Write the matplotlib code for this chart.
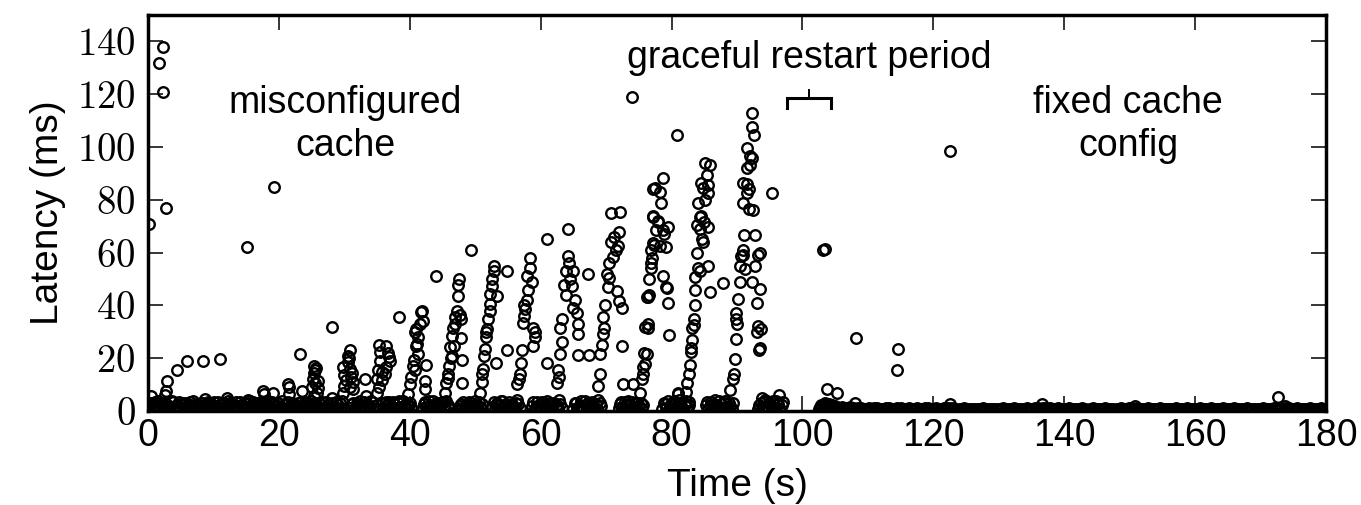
import matplotlib
matplotlib.use('Agg')
import matplotlib.pyplot as plt
from matplotlib.ticker import FuncFormatter

plt.rcParams['font.family'] = ['Liberation Sans', 'DejaVu Sans']
plt.rcParams['mathtext.fontset'] = 'cm'

# isolated outliers (time s, latency ms)
outlier_pts = [(0.1, 71), (2.3, 138), (1.7, 132), (2.3, 121), (2.7, 77), (19.2, 85), (15.2, 62),
               (0.4, 5.8), (2.9, 11.4), (2.8, 7.6), (2.6, 6.0), (4.4, 15.6), (5.9, 19), (8.4, 19),
               (11.0, 19.8), (8.7, 4.6), (12.0, 5.0), (15.3, 4.2), (17.6, 7.6), (17.7, 6.5),
               (19.1, 6.8), (21.4, 10.3), (21.5, 9.0), (21.6, 6.6), (23.2, 21.7), (23.5, 7.6),
               (28.1, 32), (28.1, 5.0), (33.2, 12.2), (33.3, 5.7), (35.0, 6.9), (38.4, 35.7),
               (44.0, 51), (49.4, 61), (54.8, 53), (54.8, 23), (61.0, 65), (61.0, 18.2),
               (67.2, 52), (65.7, 21.3), (67.4, 21.3), (74.0, 119), (80.8, 104.6), (87.9, 48.3),
               (95.3, 82.5), (96.4, 6.0), (93.8, 5.0)]

# the periodic latency bursts while the cache is misconfigured
burst1 = [(25.4, 17), (25.5, 15.5), (25.3, 14.5), (25.2, 12.3), (25.5, 10.5), (25.1, 9), (26.0, 8.7),
          (25.8, 6.7), (25.3, 5.5), (25.6, 16.2), (25.9, 11.5)]
burst2 = [(30.9, 23), (30.6, 21), (30.7, 20), (29.8, 16.5), (30.8, 16), (30.0, 13.6), (31.0, 12.8),
          (30.3, 11.6), (31.3, 11), (29.9, 9.3), (30.8, 9), (31.3, 8.3), (29.8, 6.7), (30.5, 18.5),
          (31.2, 14.5)]
burst3 = [(35.3, 25), (36.4, 24.8), (36.7, 22), (37.0, 19), (35.5, 19), (35.2, 15.6), (35.7, 14.8),
          (36.2, 14), (35.0, 12.3), (35.8, 11.8), (35.3, 9), (36.8, 20.5), (36.3, 16.7), (35.5, 22.5)]
burst4 = [(41.9, 38), (41.7, 37.5), (42.0, 34), (41.6, 33), (41.0, 31), (40.8, 30), (41.1, 25.5),
          (40.9, 24.5), (40.5, 17), (40.8, 15.5), (42.5, 17.5), (40.0, 10.3), (42.3, 11.4),
          (42.4, 8.5), (39.7, 6.5), (41.3, 28), (41.2, 21.5), (40.6, 19.5), (40.2, 13)]
burst5 = [(47.5, 50), (47.4, 47.7), (47.4, 43.7), (47.2, 38), (46.9, 35.5), (47.6, 36.3), (47.8, 35),
          (46.9, 33), (46.6, 31.6), (46.7, 24.7), (46.2, 24.2), (46.5, 20.8), (46.3, 20), (46.0, 17),
          (45.8, 14), (45.6, 10.6), (48.0, 19.4), (48.0, 10.6), (47.8, 27.7), (45.4, 6.8),
          (46.5, 28.5), (45.9, 12.5)]
burst6 = [(52.9, 55), (52.8, 53), (52.6, 50), (52.5, 47.5), (52.3, 40.5), (52.2, 38), (52.0, 35),
          (51.8, 31), (51.6, 28), (51.5, 23.5), (51.2, 16), (51.0, 14), (50.7, 7), (53.3, 43.6),
          (53.2, 18.3), (51.7, 30), (52.3, 44.5), (51.3, 21), (51.0, 11)]
burst7 = [(58.3, 58), (58.4, 54), (57.9, 51), (58.1, 46), (57.9, 42), (57.6, 38.5), (57.4, 36),
          (58.9, 31.6), (59.1, 28), (58.9, 24.5), (57.2, 23), (57.0, 18), (56.8, 14), (56.4, 10.3),
          (57.5, 40), (58.6, 49), (57.3, 33.5), (56.7, 12), (59.2, 30)]
burst8 = [(64.2, 68.8), (64.2, 58.7), (63.9, 53), (64.9, 53), (63.6, 47.7), (64.8, 47.5), (65.3, 42),
          (65.5, 37), (65.7, 33), (65.7, 29.3), (63.3, 35), (63.0, 31.5), (63.0, 21.6), (62.6, 15.6),
          (62.8, 13), (64.5, 50), (63.8, 44), (64.3, 56), (63.2, 26), (65.0, 39), (62.5, 10.5)]
burst9 = [(70.7, 75), (72.1, 75.3), (71.9, 67.7), (71.2, 66), (70.7, 64), (71.5, 61), (70.5, 56),
          (70.2, 52), (70.5, 50.5), (71.7, 45.6), (72.0, 41.6), (72.4, 39), (69.8, 40), (69.5, 35.5),
          (69.5, 29), (69.3, 25), (69.1, 21.6), (69.0, 14), (68.8, 9.6), (72.4, 24.7), (72.6, 10.2),
          (74.1, 10.2), (71.1, 58.5), (70.3, 47), (69.7, 31.5), (71.8, 62.5)]
burst10 = [(78.4, 78.7), (77.2, 73.7), (77.9, 71.7), (78.7, 68.7), (77.6, 68.5), (77.2, 63.5),
           (78.2, 62.5), (79.2, 62), (76.9, 54), (78.7, 51.3), (79.2, 47), (76.4, 43), (79.5, 41),
           (76.4, 33), (76.4, 31.5), (79.6, 28.9), (76.2, 21.6), (75.9, 17.7), (75.6, 14),
           (75.2, 6.8), (81.0, 7), (78.7, 88.2), (77.5, 84.4), (77.1, 84), (78.3, 83),
           (77.1, 73.4), (77.9, 72), (79.5, 69.6), (78.8, 67), (77.3, 63), (76.8, 61), (76.8, 56),
           (79.3, 46.7), (76.3, 43.3), (76.5, 44), (76.0, 32), (75.8, 22), (75.6, 16.5),
           (75.5, 12), (76.6, 50), (77.0, 58)]
burst11 = [(85.1, 94), (85.9, 93), (85.4, 89.4), (84.5, 86.5), (84.8, 84.5), (85.5, 85.5),
           (85.6, 82.5), (85.1, 80), (84.0, 78.7), (84.5, 74), (84.3, 73.5), (85.0, 71.5),
           (83.9, 70.5), (85.6, 69.6), (84.3, 69), (84.6, 65), (84.8, 64), (83.9, 59.7), (84.1, 54),
           (84.3, 53), (83.6, 50.6), (85.6, 55), (85.9, 45), (83.6, 46), (83.6, 40), (83.4, 35),
           (83.4, 32.5), (83.2, 31.5), (83.2, 27), (83.0, 24), (83.0, 22.5), (82.8, 17.5),
           (82.6, 14), (82.4, 10.6), (82.2, 7.3), (81.0, 6.5)]
burst12 = [(92.3, 113), (92.3, 107.7), (92.6, 104.6), (91.5, 99.6), (92.0, 96.6), (92.3, 96),
           (92.0, 93), (91.5, 92), (90.9, 86.3), (91.5, 85.8), (91.8, 84), (91.5, 82.5),
           (90.9, 78.7), (91.8, 76.5), (92.5, 76), (91.1, 66.5), (92.8, 66.5), (90.9, 61),
           (90.6, 58.6), (90.4, 55), (90.4, 48.7), (90.2, 42.6), (89.9, 37), (89.9, 35),
           (89.8, 27.4), (89.7, 19.8), (89.5, 14), (89.4, 12), (89.0, 8), (92.8, 55), (93.5, 60),
           (93.2, 59), (92.3, 48.7), (93.5, 46.4), (93.0, 41), (93.2, 32.3), (93.6, 31), (93.0, 30),
           (93.5, 24), (93.4, 23), (90.9, 59), (91.2, 53.6), (90.0, 33)]

# after the graceful restart
after_pts = [(103.5, 61.2), (103.2, 60.8), (103.7, 8.4), (105.3, 6.9), (108.2, 27.8), (114.6, 23.6),
             (114.5, 15.6), (122.6, 98.5), (172.7, 5.3), (108.0, 3.0), (122.6, 2.5), (136.6, 2.5),
             (150.8, 2.0), (173.7, 2.0)]

# dense low-latency band before the restart
base_t = [0.1, 0.4, 0.8, 1.2, 1.5, 1.9, 2.3, 2.7, 3.0, 3.4,
          3.8, 4.2, 4.5, 4.9, 5.3, 5.6, 6.0, 6.4, 6.8, 7.1,
          7.5, 7.9, 8.3, 8.6, 9.0, 9.4, 9.8, 10.1, 10.5, 10.9,
          11.3, 11.6, 12.0, 12.4, 12.8, 13.1, 13.5, 13.9, 14.3, 14.6,
          15.0, 15.4, 15.8, 16.1, 16.5, 16.9, 17.3, 17.6, 18.0, 18.4,
          18.8, 19.1, 19.5, 19.9, 20.3, 20.6, 21.0, 21.4, 21.8, 22.1,
          22.5, 22.9, 23.3, 23.6, 24.0, 24.4, 24.8, 25.1, 25.5, 25.9,
          26.3, 26.6, 27.0, 27.4, 27.8, 28.1, 28.5, 28.9, 29.3, 29.7,
          30.9, 31.3, 31.7, 32.0, 32.4, 32.8, 33.2, 33.5, 33.9, 34.3, 34.7, 35.0,
          35.7, 36.1, 36.5, 36.8, 37.2, 37.6, 38.0, 38.3, 38.7, 39.1, 39.5, 39.8, 40.2,
          42.0, 42.4, 42.8, 43.1, 43.5, 43.9, 44.3, 44.6, 45.0, 45.4, 45.8, 46.1,
          47.4, 47.8, 48.2, 48.5, 48.9, 49.3, 49.7, 50.0, 50.4, 50.8, 51.1,
          52.6, 53.0, 53.4, 53.7, 54.1, 54.5, 54.9, 55.2, 55.6, 56.0, 56.4, 56.8,
          58.7, 59.1, 59.5, 59.8, 60.2, 60.6, 61.0, 61.3, 61.7, 62.1, 62.5, 62.8, 63.2,
          65.0, 65.4, 65.8, 66.1, 66.5, 66.9, 67.3, 67.6, 68.0, 68.4, 68.8, 69.2,
          71.9, 72.3, 72.7, 73.0, 73.4, 73.8, 74.2, 74.5, 74.9, 75.3, 75.7,
          78.6, 79.0, 79.4, 79.7, 80.1, 80.5, 80.9, 81.2, 81.6, 82.0, 82.4, 82.7,
          85.2, 85.6, 86.0, 86.3, 86.7, 87.1, 87.5, 87.8, 88.2, 88.6, 89.0, 89.4,
          93.2, 93.6, 94.0, 94.3, 94.7, 95.1, 95.5, 95.8, 96.2, 96.6, 97.0,
          102.6, 102.9, 103.2, 103.5, 103.8, 104.1, 104.4, 104.7, 105.0, 105.3, 105.6]
base_lat = [1.2, 3.1, 0.5, 2.2, 3.6, 0.8, 1.9, 2.8, 0.4, 1.5,
            3.3, 0.9, 2.4, 1.1, 3.0, 0.6, 2.0, 3.5, 1.3, 0.7,
            2.6, 1.0, 3.2, 0.5, 1.8, 2.9, 0.9, 3.4, 1.4, 0.6,
            2.3, 3.1, 0.8, 1.6, 2.7, 0.4, 3.3, 1.2, 2.1, 0.7,
            2.9, 1.5, 0.5, 3.4, 2.2, 1.0, 3.0, 0.6, 1.8, 3.6,
            1.1, 2.5, 0.4, 3.2, 1.7, 0.8, 2.8, 3.5, 1.3, 0.6,
            2.4, 3.1, 0.9, 1.6, 3.4, 0.5, 2.0, 1.2, 3.0, 0.7,
            2.6, 3.5, 1.0, 0.4, 2.2, 3.2, 1.4, 0.8, 2.9, 3.6,
            1.0, 3.2, 0.6, 2.4, 3.6, 1.3, 0.5, 2.8, 1.7, 3.3, 0.8, 2.1,
            2.9, 0.7, 1.8, 3.4, 0.5, 2.5, 1.2, 3.6, 0.9, 2.0, 3.1, 0.6, 1.5,
            1.1, 3.3, 0.5, 2.2, 3.7, 1.4, 0.8, 2.9, 3.5, 1.0, 2.4, 0.6,
            0.7, 2.6, 3.4, 1.2, 0.5, 3.0, 2.0, 3.8, 0.9, 1.6, 2.8,
            1.4, 0.6, 3.1, 2.3, 3.9, 0.8, 1.7, 3.5, 2.6, 0.5, 4.2, 1.1,
            2.0, 0.6, 3.3, 1.2, 2.7, 0.9, 3.8, 1.5, 0.5, 3.0, 2.2, 4.0, 1.0,
            0.8, 2.9, 1.5, 3.6, 0.5, 2.2, 3.2, 1.1, 0.7, 2.6, 4.1, 1.8,
            1.3, 3.4, 0.6, 2.1, 3.8, 0.9, 2.7, 1.6, 0.5, 3.1, 2.3,
            0.7, 2.5, 3.6, 1.2, 0.5, 3.0, 1.9, 4.2, 0.9, 2.8, 1.4, 3.3,
            2.2, 0.6, 3.4, 1.5, 4.0, 0.8, 2.7, 1.1, 3.7, 0.5, 2.0, 3.1,
            0.9, 3.0, 1.6, 4.3, 0.6, 2.4, 3.6, 1.2, 2.8, 0.7, 3.4,
            0.6, 2.2, 1.0, 3.0, 0.5, 2.6, 1.4, 0.8, 2.0, 1.2, 0.6]

# second pass of the same band (interleaved samples)
base2_t = [0.25, 0.6, 1.0, 1.35, 1.7, 2.1, 2.5, 2.85, 3.2, 3.6,
           4.0, 4.35, 4.7, 5.1, 5.45, 5.8, 6.2, 6.6, 6.95, 7.3,
           7.7, 8.1, 8.45, 8.8, 9.2, 9.6, 9.95, 10.3, 10.7, 11.1,
           11.45, 11.8, 12.2, 12.6, 12.95, 13.3, 13.7, 14.1, 14.45, 14.8,
           15.2, 15.6, 15.95, 16.3, 16.7, 17.1, 17.45, 17.8, 18.2, 18.6,
           18.95, 19.3, 19.7, 20.1, 20.45, 20.8, 21.2, 21.6, 21.95, 22.3,
           22.7, 23.1, 23.45, 23.8, 24.2, 24.6, 24.95, 25.3, 25.7, 26.1,
           26.45, 26.8, 27.2, 27.6, 27.95, 28.3, 28.7, 29.1, 29.5, 29.9,
           31.1, 31.5, 31.9, 32.2, 32.6, 33.0, 33.4, 33.7, 34.1, 34.5, 34.9,
           35.9, 36.3, 36.7, 37.0, 37.4, 37.8, 38.2, 38.5, 38.9, 39.3, 39.7, 40.0,
           42.2, 42.6, 43.0, 43.3, 43.7, 44.1, 44.5, 44.8, 45.2, 45.6, 46.0,
           47.6, 48.0, 48.4, 48.7, 49.1, 49.5, 49.9, 50.2, 50.6, 51.0,
           52.8, 53.2, 53.6, 53.9, 54.3, 54.7, 55.1, 55.4, 55.8, 56.2, 56.6,
           58.9, 59.3, 59.7, 60.0, 60.4, 60.8, 61.2, 61.5, 61.9, 62.3, 62.7, 63.0,
           65.2, 65.6, 66.0, 66.3, 66.7, 67.1, 67.5, 67.8, 68.2, 68.6, 69.0,
           72.1, 72.5, 72.9, 73.2, 73.6, 74.0, 74.4, 74.7, 75.1, 75.5,
           78.8, 79.2, 79.6, 79.9, 80.3, 80.7, 81.1, 81.4, 81.8, 82.2, 82.6,
           85.4, 85.8, 86.2, 86.5, 86.9, 87.3, 87.7, 88.0, 88.4, 88.8, 89.2,
           93.4, 93.8, 94.2, 94.5, 94.9, 95.3, 95.7, 96.0, 96.4, 96.8,
           102.75, 103.05, 103.35, 103.65, 103.95, 104.25, 104.55, 104.85, 105.15, 105.45]
base2_lat = [2.7, 0.9, 3.5, 1.6, 0.5, 2.5, 3.2, 1.1, 2.0, 3.7,
             0.7, 1.9, 3.4, 2.6, 1.2, 3.1, 0.8, 2.3, 3.6, 1.5,
             0.6, 3.0, 1.9, 2.7, 3.5, 0.7, 2.2, 1.3, 3.3, 2.5,
             0.9, 1.8, 3.6, 2.9, 0.6, 2.4, 1.6, 3.5, 0.9, 3.0,
             1.3, 3.6, 2.4, 0.8, 3.1, 2.6, 1.4, 3.3, 2.7, 0.9,
             3.3, 0.7, 2.0, 1.3, 3.6, 2.4, 1.0, 0.6, 3.2, 2.2,
             1.2, 0.7, 3.5, 2.7, 1.1, 2.9, 3.6, 2.6, 1.4, 3.2,
             1.1, 0.9, 3.3, 2.5, 1.0, 0.6, 3.5, 2.3, 1.2, 0.6,
             2.5, 0.9, 3.0, 1.5, 0.6, 3.4, 2.2, 1.0, 3.6, 2.0, 0.5,
             1.2, 3.3, 2.6, 1.0, 3.5, 0.7, 2.9, 1.6, 3.7, 0.6, 2.2, 3.2,
             2.5, 1.4, 3.6, 0.7, 2.3, 3.1, 1.8, 0.5, 2.0, 3.7, 1.5,
             2.0, 1.0, 0.6, 2.8, 3.5, 1.4, 0.7, 2.3, 3.4, 0.9,
             3.3, 2.1, 0.8, 3.7, 1.3, 2.8, 0.6, 2.2, 1.0, 3.2, 2.5,
             3.5, 1.6, 2.3, 0.6, 3.4, 2.1, 0.8, 3.1, 2.5, 1.0, 0.6, 2.7,
             3.0, 0.6, 2.4, 1.2, 3.6, 0.9, 2.0, 3.4, 1.5, 0.7, 2.9,
             2.6, 1.0, 3.3, 0.6, 2.2, 3.5, 1.2, 3.0, 2.0, 0.8,
             3.1, 1.3, 0.7, 2.6, 3.7, 1.0, 3.2, 2.0, 0.6, 3.8, 2.3,
             3.3, 1.8, 0.7, 2.6, 2.1, 3.6, 0.6, 2.9, 1.4, 3.2, 0.9,
             2.3, 0.6, 3.5, 2.0, 3.1, 0.9, 1.7, 3.8, 0.6, 2.2,
             1.6, 0.5, 2.4, 1.2, 1.8, 0.7, 2.2, 1.5, 0.5, 1.0]

# thin low-latency band once the cache config is fixed
tail_t = [106.1, 106.6, 107.3, 107.8, 108.5, 109.0, 109.7, 110.2, 110.9, 111.4,
          112.1, 112.7, 113.2, 113.9, 114.4, 115.1, 115.6, 116.3, 116.8, 117.5,
          118.0, 118.7, 119.2, 119.9, 120.4, 121.1, 121.6, 122.3, 122.8, 123.5,
          124.0, 124.7, 125.2, 125.9, 126.4, 127.1, 127.6, 128.3, 128.8, 129.5,
          130.0, 130.7, 131.2, 131.9, 132.4, 133.1, 133.6, 134.3, 134.8, 135.5,
          136.0, 136.7, 137.2, 137.9, 138.4, 139.1, 139.6, 140.3, 140.8, 141.5,
          142.0, 142.7, 143.2, 143.9, 144.4, 145.1, 145.6, 146.3, 146.8, 147.5,
          148.0, 148.7, 149.2, 149.9, 150.4, 151.1, 151.6, 152.3, 152.8, 153.5,
          154.0, 154.7, 155.2, 155.9, 156.4, 157.1, 157.6, 158.3, 158.8, 159.5,
          160.0, 160.7, 161.2, 161.9, 162.4, 163.1, 163.6, 164.3, 164.8, 165.5,
          166.0, 166.7, 167.2, 167.9, 168.4, 169.1, 169.6, 170.3, 170.8, 171.5,
          172.0, 172.7, 173.2, 173.9, 174.4, 175.1, 175.6, 176.3, 176.8, 177.5,
          178.0, 178.7, 179.2, 179.9]
tail_lat = [1.4, 1.1, 1.5, 1.0, 1.3, 1.1, 0.9, 1.2, 1.0, 1.1,
            0.9, 1.2, 1.0, 0.8, 1.1, 1.0, 0.9, 1.1, 0.8, 1.0,
            0.9, 1.1, 1.0, 0.8, 1.0, 0.9, 1.1, 1.2, 1.0, 0.9,
            0.8, 1.0, 0.9, 0.7, 0.9, 0.8, 1.0, 0.9, 0.7, 0.9,
            0.8, 1.0, 0.9, 0.8, 1.0, 0.9, 0.8, 1.0, 0.9, 1.0,
            1.1, 1.3, 1.1, 1.0, 0.9, 1.0, 0.8, 0.9, 1.0, 0.8,
            0.9, 1.0, 0.8, 0.9, 1.0, 0.9, 0.8, 1.0, 0.9, 0.8,
            0.9, 1.0, 0.8, 1.0, 1.1, 1.0, 0.9, 0.8, 1.0, 0.9,
            0.8, 1.0, 0.9, 0.8, 0.9, 1.0, 0.8, 0.9, 1.0, 0.8,
            0.9, 1.0, 0.8, 0.9, 1.0, 0.9, 0.8, 1.0, 0.9, 0.8,
            1.0, 0.9, 0.8, 1.0, 0.9, 0.8, 0.9, 1.0, 0.9, 0.8,
            1.0, 0.9, 1.1, 1.2, 1.0, 0.9, 1.0, 0.8, 0.9, 1.0,
            0.9, 0.8, 1.0, 0.9]
tail2_t = [106.35, 106.95, 107.55, 108.15, 108.75, 109.35, 109.95, 110.55, 111.15, 111.75,
           112.4, 112.95, 113.55, 114.15, 114.75, 115.35, 115.95, 116.55, 117.15, 117.75,
           118.35, 118.95, 119.55, 120.15, 120.75, 121.35, 121.95, 122.55, 123.15, 123.75,
           124.35, 124.95, 125.55, 126.15, 126.75, 127.35, 127.95, 128.55, 129.15, 129.75,
           130.35, 130.95, 131.55, 132.15, 132.75, 133.35, 133.95, 134.55, 135.15, 135.75,
           136.35, 136.95, 137.55, 138.15, 138.75, 139.35, 139.95, 140.55, 141.15, 141.75,
           142.35, 142.95, 143.55, 144.15, 144.75, 145.35, 145.95, 146.55, 147.15, 147.75,
           148.35, 148.95, 149.55, 150.15, 150.75, 151.35, 151.95, 152.55, 153.15, 153.75,
           154.35, 154.95, 155.55, 156.15, 156.75, 157.35, 157.95, 158.55, 159.15, 159.75,
           160.35, 160.95, 161.55, 162.15, 162.75, 163.35, 163.95, 164.55, 165.15, 165.75,
           166.35, 166.95, 167.55, 168.15, 168.75, 169.35, 169.95, 170.55, 171.15, 171.75,
           172.35, 172.95, 173.55, 174.15, 174.75, 175.35, 175.95, 176.55, 177.15, 177.75,
           178.35, 178.95, 179.55]
tail2_lat = [1.0, 0.7, 1.1, 0.6, 0.8, 0.7, 0.6, 0.8, 0.7, 0.6,
             0.7, 0.6, 0.8, 0.6, 0.7, 0.6, 0.5, 0.7, 0.6, 0.5,
             0.6, 0.7, 0.5, 0.6, 0.7, 0.6, 0.8, 0.7, 0.6, 0.5,
             0.6, 0.5, 0.6, 0.5, 0.6, 0.5, 0.6, 0.5, 0.6, 0.5,
             0.6, 0.5, 0.6, 0.7, 0.6, 0.5, 0.6, 0.7, 0.6, 0.7,
             0.8, 0.9, 0.8, 0.7, 0.6, 0.5, 0.6, 0.7, 0.6, 0.5,
             0.6, 0.7, 0.5, 0.6, 0.7, 0.6, 0.5, 0.6, 0.7, 0.5,
             0.6, 0.7, 0.6, 0.7, 0.8, 0.7, 0.6, 0.5, 0.6, 0.7,
             0.6, 0.5, 0.6, 0.7, 0.6, 0.5, 0.6, 0.7, 0.6, 0.5,
             0.6, 0.7, 0.6, 0.5, 0.6, 0.7, 0.6, 0.5, 0.6, 0.7,
             0.6, 0.5, 0.6, 0.7, 0.6, 0.5, 0.6, 0.7, 0.6, 0.5,
             0.7, 0.8, 0.9, 0.8, 0.7, 0.6, 0.7, 0.6, 0.5, 0.6,
             0.7, 0.6, 0.7]

x_ticks = [0, 20, 40, 60, 80, 100, 120, 140, 160, 180]
y_ticks = [0, 20, 40, 60, 80, 100, 120, 140]

# restart bracket (seconds / ms)
restart_start, restart_end, restart_mid = 97.6, 104.4, 101.0
bracket_low, bracket_bar, bracket_top = 114.9, 118.5, 121.7

pts = outlier_pts + burst1 + burst2 + burst3 + burst4 + burst5 + burst6 + burst7 + \
    burst8 + burst9 + burst10 + burst11 + burst12 + after_pts
all_t = base_t + base2_t + tail_t + tail2_t + [p[0] for p in pts]
all_lat = base_lat + base2_lat + tail_lat + tail2_lat + [p[1] for p in pts]

fig = plt.figure(figsize=(13.61, 5.05), dpi=100)
ax = fig.add_axes([148 / 1361, 1 - 411 / 505, (1326 - 148) / 1361, (411 - 15) / 505])

ax.plot(all_t, all_lat, 'o', ms=7.6, mfc='none', mec='black', mew=1.7, linestyle='none')

# graceful restart bracket
ax.plot([restart_start, restart_start, restart_end, restart_end],
        [bracket_low, bracket_bar, bracket_bar, bracket_low], color='black', lw=2.2,
        solid_joinstyle='miter')
ax.plot([restart_mid, restart_mid], [bracket_bar, bracket_top], color='black', lw=1.4)

fs = 27
ax.text(30.2, 113, 'misconfigured', ha='center', va='baseline', fontsize=fs)
ax.text(30.2, 96.7, 'cache', ha='center', va='baseline', fontsize=fs)
ax.text(101, 130, 'graceful restart period', ha='center', va='baseline', fontsize=fs)
ax.text(149.8, 113, 'fixed cache', ha='center', va='baseline', fontsize=fs)
ax.text(149.8, 96.7, 'config', ha='center', va='baseline', fontsize=fs)

ax.set_xlim(0, 180)
ax.set_ylim(0, 150)
ax.set_xticks(x_ticks)
ax.set_yticks(y_ticks)
ax.yaxis.set_major_formatter(FuncFormatter(lambda v, p: '$%d$' % v))
ax.tick_params(direction='in', length=11, width=1.1, top=True, right=True, labelsize=fs)
ax.tick_params(axis='y', pad=9, labelsize=28)
ax.tick_params(axis='x', pad=5)
for s in ax.spines.values():
    s.set_linewidth(2.5)

ax.set_xlabel('Time (s)', fontsize=28, labelpad=10)
ax.set_ylabel('Latency (ms)', fontsize=28, labelpad=8)

fig.savefig('out.png', dpi=100)
